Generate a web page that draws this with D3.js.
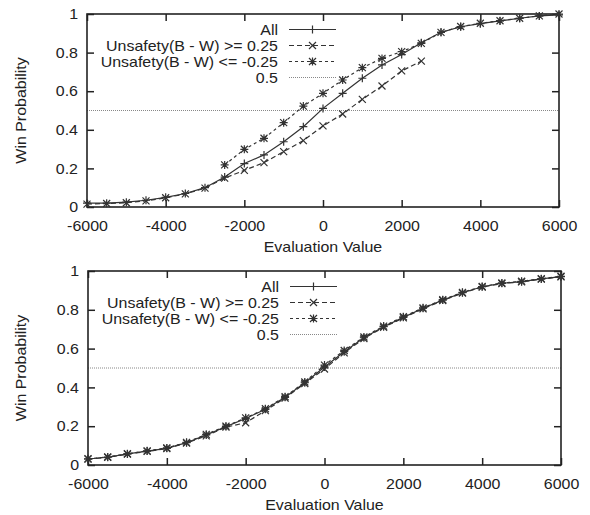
<!DOCTYPE html>
<html>
<head>
<meta charset="utf-8">
<script src="https://cdn.jsdelivr.net/npm/d3@7"></script>
<style>
  body { margin: 0; background: #fff; }
  text { font-family: "Liberation Sans", Arial, sans-serif; fill: #222; }
</style>
</head>
<body>
<div id="chart"></div>
<script>
// evaluation values (x)
var evalValues = [-6000, -5500, -5000, -4500, -4000, -3500, -3000, -2500, -2000, -1500, -1000, -500,
  0, 500, 1000, 1500, 2000, 2500, 3000, 3500, 4000, 4500, 5000, 5500, 6000];
var evalSafe = [-6000, -5500, -5000, -4500, -4000, -3500, -3000, -2500, -2000, -1500, -1000, -500,
  0, 500, 1000, 1500, 2000, 2500];
var evalUnsafe = [-2500, -2000, -1500, -1000, -500, 0, 500, 1000, 1500, 2000, 2500, 3000,
  3500, 4000, 4500, 5000, 5500, 6000];

// upper chart
var topAll = [0.02, 0.02, 0.025, 0.035, 0.05, 0.07, 0.10, 0.155, 0.225, 0.27, 0.338, 0.416,
  0.511, 0.589, 0.667, 0.736, 0.79, 0.851, 0.905, 0.934, 0.95, 0.964, 0.978, 0.99, 0.995];
var topSafe = [0.015, 0.018, 0.022, 0.032, 0.048, 0.068, 0.098, 0.15, 0.19, 0.23, 0.287, 0.344,
  0.42, 0.482, 0.558, 0.627, 0.705, 0.756];
var topUnsafe = [0.218, 0.299, 0.356, 0.437, 0.523, 0.589, 0.658, 0.722, 0.77, 0.805, 0.848, 0.905,
  0.935, 0.952, 0.965, 0.978, 0.99, 1.0];

// lower chart
var botAll = [0.031, 0.04, 0.057, 0.072, 0.086, 0.115, 0.155, 0.198, 0.24, 0.287, 0.349, 0.424,
  0.505, 0.584, 0.656, 0.713, 0.761, 0.808, 0.85, 0.888, 0.919, 0.937, 0.945, 0.959, 0.971];
var botSafe = [0.03, 0.04, 0.056, 0.07, 0.085, 0.113, 0.15, 0.195, 0.218, 0.28, 0.345, 0.42,
  0.495, 0.578, 0.652, 0.71, 0.758, 0.805, 0.848, 0.886, 0.917, 0.935, 0.944, 0.958, 0.97];
var botUnsafe = [0.032, 0.041, 0.058, 0.073, 0.088, 0.117, 0.158, 0.2, 0.243, 0.29, 0.352, 0.428,
  0.515, 0.59, 0.66, 0.716, 0.764, 0.81, 0.852, 0.89, 0.92, 0.938, 0.947, 0.96, 0.973];

// ticks and labels
var xTicks = [-6000, -4000, -2000, 0, 2000, 4000, 6000];
var yTicks = [0, 0.2, 0.4, 0.6, 0.8, 1];
var legendNames = ["All", "Unsafety(B - W) >= 0.25", "Unsafety(B - W) <= -0.25", "0.5"];
var refLevel = 0.5;

var svgWidth = 590;
var svgHeight = 515;
var fontSize = 14.5;
var stretch = 1.1;

var svg = d3.select("#chart")
  .append("svg")
  .attr("width", svgWidth)
  .attr("height", svgHeight);

var markers = {
  plus: "M-4,0H4M0,-4V4",
  cross: "M-3.5,-3.5L3.5,3.5M-3.5,3.5L3.5,-3.5",
  star: "M-4,0H4M0,-4V4M-3.5,-3.5L3.5,3.5M-3.5,3.5L3.5,-3.5"
};

var styles = [
  { dash: null, marker: markers.plus },
  { dash: "5,3", marker: markers.cross },
  { dash: "3,3", marker: markers.star }
];

function drawPanel(left, top, width, height, seriesList) {
  var g = svg.append("g").attr("transform", `translate(${left}, ${top})`);

  var x = d3.scaleLinear().domain([-6000, 6000]).range([0, width]);
  var y = d3.scaleLinear().domain([0, 1]).range([height, 0]);

  // reference line at 0.5
  g.append("line")
    .attr("x1", 0).attr("x2", width)
    .attr("y1", y(refLevel)).attr("y2", y(refLevel))
    .attr("stroke", "#888")
    .attr("stroke-width", 1)
    .attr("stroke-dasharray", "1,1");

  // axes, ticks pointing inwards
  var bottomAxis = g.append("g")
    .attr("transform", `translate(0, ${height})`)
    .call(d3.axisBottom(x).tickValues(xTicks).tickSizeInner(-7).tickSizeOuter(0).tickPadding(14).tickFormat(d => d));
  var topAxis = g.append("g")
    .call(d3.axisTop(x).tickValues(xTicks).tickSizeInner(-7).tickSizeOuter(0).tickFormat(""));
  var leftAxis = g.append("g")
    .call(d3.axisLeft(y).tickValues(yTicks).tickSizeInner(-7).tickSizeOuter(0).tickPadding(9).tickFormat(d => d));
  var rightAxis = g.append("g")
    .attr("transform", `translate(${width}, 0)`)
    .call(d3.axisRight(y).tickValues(yTicks).tickSizeInner(-7).tickSizeOuter(0).tickFormat(""));

  [bottomAxis, topAxis, leftAxis, rightAxis].forEach(function(a) {
    a.select(".domain").remove();
    a.selectAll(".tick line").attr("stroke", "#222").attr("stroke-width", 1.5);
    a.selectAll("text").style("font-size", fontSize + "px").attr("fill", "#222");
  });
  bottomAxis.selectAll("text").attr("dy", "0.71em");

  // frame
  g.append("rect")
    .attr("width", width).attr("height", height)
    .attr("fill", "none")
    .attr("stroke", "#222")
    .attr("stroke-width", 1.6);

  // series
  var line = d3.line().x(d => x(d[0])).y(d => y(d[1]));
  seriesList.forEach(function(s, i) {
    var pts = s.xs.map((v, j) => [v, s.ys[j]]);
    g.append("path")
      .datum(pts)
      .attr("d", line)
      .attr("fill", "none")
      .attr("stroke", "#333")
      .attr("stroke-width", 1.2)
      .attr("stroke-dasharray", styles[i].dash);
    g.selectAll(null)
      .data(pts)
      .enter()
      .append("path")
      .attr("transform", d => `translate(${x(d[0])}, ${y(d[1])})`)
      .attr("d", styles[i].marker)
      .attr("stroke", "#333")
      .attr("stroke-width", 1.2)
      .attr("fill", "none");
  });

  // legend
  var legend = g.append("g");
  legendNames.forEach(function(name, i) {
    var ly = 15.5 + i * 16;
    legend.append("text")
      .attr("x", 191).attr("y", ly)
      .attr("dy", "0.35em")
      .attr("text-anchor", "end")
      .style("font-size", fontSize + "px")
      .text(name);
    var ln = legend.append("line")
      .attr("x1", 202).attr("x2", 249)
      .attr("y1", ly).attr("y2", ly)
      .attr("fill", "none");
    if (i < 3) {
      ln.attr("stroke", "#333").attr("stroke-width", 1.2).attr("stroke-dasharray", styles[i].dash);
      legend.append("path")
        .attr("transform", `translate(225.5, ${ly})`)
        .attr("d", styles[i].marker)
        .attr("stroke", "#333")
        .attr("stroke-width", 1.2)
        .attr("fill", "none");
    } else {
      ln.attr("stroke", "#888").attr("stroke-width", 1).attr("stroke-dasharray", "1,1");
    }
  });

  // axis titles
  g.append("text")
    .attr("x", width / 2).attr("y", height + 45)
    .attr("text-anchor", "middle")
    .style("font-size", fontSize + "px")
    .text("Evaluation Value");
  g.append("text")
    .attr("transform", `translate(${21 - left}, ${height / 2}) rotate(-90)`)
    .attr("dy", "0.35em")
    .attr("text-anchor", "middle")
    .style("font-size", fontSize + "px")
    .text("Win Probability");
}

drawPanel(87, 14, 472, 193, [
  { xs: evalValues, ys: topAll },
  { xs: evalSafe, ys: topSafe },
  { xs: evalUnsafe, ys: topUnsafe }
]);

drawPanel(88, 271, 473, 194, [
  { xs: evalValues, ys: botAll },
  { xs: evalValues, ys: botSafe },
  { xs: evalValues, ys: botUnsafe }
]);

// the original lettering is wider than it is tall
svg.selectAll("text").each(function() {
  var len = this.getComputedTextLength();
  if (len > 0) {
    d3.select(this)
      .attr("textLength", len * stretch)
      .attr("lengthAdjust", "spacingAndGlyphs");
  }
});
</script>
</body>
</html>
